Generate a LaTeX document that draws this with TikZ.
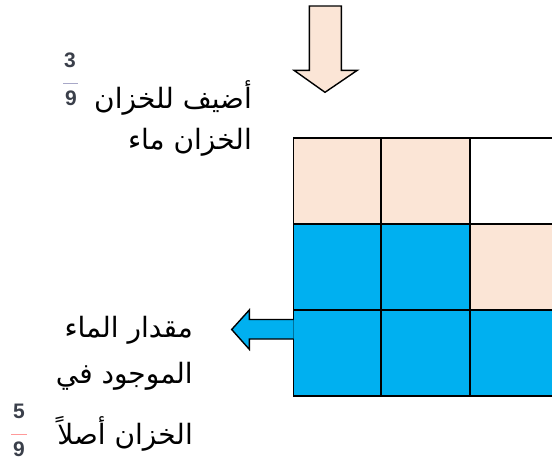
\documentclass[tikz,border=0pt]{standalone}
\usepackage{fontspec}
\setmainfont{DejaVu Sans}
\newfontfamily\arabicfont[Script=Arabic]{DejaVu Sans}
\newfontfamily\digitfont{Liberation Sans}
\TeXXeTstate=1
\definecolor{peach}{HTML}{FBE5D6}
\definecolor{water}{HTML}{00B0F0}
\definecolor{digitc}{HTML}{3A3F4A}
\definecolor{barc}{HTML}{A8A8C8}
\tikzset{
  cell/.style={draw=black, line width=1.8pt, minimum width=#1, minimum height=86pt, inner sep=0pt, outer sep=0pt},
  blockarrow/.style={draw=black, line width=1.4pt, line join=miter},
  atext/.style={font=\arabicfont\fontsize{28}{32}\selectfont, inner sep=0pt, anchor=base east},
  dig/.style={font=\digitfont\bfseries\fontsize{21}{22}\selectfont, text=digitc, inner sep=0pt},
  fbar/.style={draw=barc, line width=0.9pt}
}
\begin{document}
\begin{tikzpicture}[x=1pt,y=-1pt]
\useasboundingbox (0,0) rectangle (552,467);
% grid
\begin{scope}
\clip (0,0) rectangle (552,467);
\node[cell=87.2pt, fill=peach] (c11) at (337.1,181.2) {};
\node[cell=89.6pt, fill=peach] (c12) at (425.5,181.2) {};
\node[cell=89.6pt, fill=white] (c13) at (515.1,181.2) {};
\node[cell=87.2pt, fill=water] (c21) at (337.1,267.2) {};
\node[cell=89.6pt, fill=water] (c22) at (425.5,267.2) {};
\node[cell=89.6pt, fill=peach] (c23) at (515.1,267.2) {};
\node[cell=87.2pt, fill=water] (c31) at (337.1,353.0) {};
\node[cell=89.6pt, fill=water] (c32) at (425.5,353.0) {};
\node[cell=89.6pt, fill=water] (c33) at (515.1,353.0) {};
\end{scope}
% down arrow
\draw[blockarrow, fill=peach] (309.3,6) -- (341.3,6) -- (341.3,70.3) -- (357.3,70.3) -- (325,92.3) -- (294,70.3) -- (309.3,70.3) -- cycle;
% left arrow
\draw[blockarrow, fill=water] (c31.west |- 0,319.5) -- (249.3,319.5) -- (249.3,310) -- (231.7,329.5) -- (249.3,349.3) -- (249.3,339) -- (c31.west |- 0,339);
% top text
\node[dig] (n1) at (70,60) {3};
\draw[fbar] (63,83) -- (78,83);
\node[dig] (d1) at (71,98) {9};
\node[atext] (t1) at (252,108) {\beginR أضيف للخزان\endR};
\node[atext] (t2) at (252,149) {\beginR الخزان ماء\endR};
% bottom text
\node[atext] (b1) at (193,337) {\beginR مقدار الماء\endR};
\node[atext] (b2) at (193,383) {\beginR الموجود في\endR};
\node[dig] (n2) at (19,411) {5};
\draw[fbar, draw=pink!80!red] (11,434) -- (27,434);
\node[dig] (d2) at (19,449) {9};
\node[atext] (b3) at (193,444) {\beginR الخزان أصلاً\endR};
\end{tikzpicture}
\end{document}
